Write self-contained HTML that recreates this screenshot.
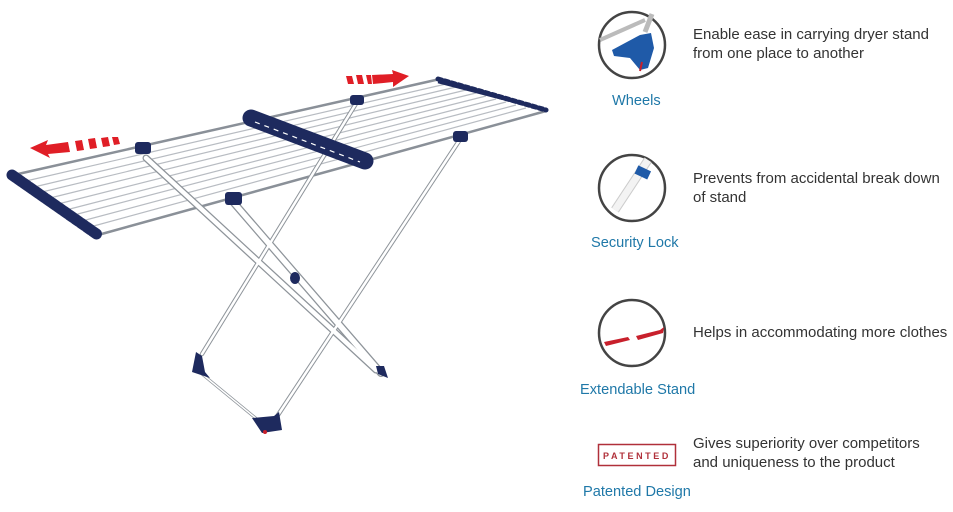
<!DOCTYPE html>
<html><head><meta charset="utf-8"><style>
html,body{margin:0;padding:0;background:#fff;}
body{width:953px;height:512px;position:relative;overflow:hidden;font-family:"Liberation Sans","DejaVu Sans",sans-serif;}
.t{position:absolute;color:#333;font-size:15px;line-height:19px;white-space:nowrap;}
.l{position:absolute;color:#1f78a8;font-size:14.6px;white-space:nowrap;}
</style></head><body>
<svg width="953" height="512" style="position:absolute;left:0;top:0">
<g stroke="#b8bcc2" stroke-width="1.2">
<line x1="26" y1="181" x2="446" y2="84"/>
<line x1="34" y1="187" x2="456" y2="87"/>
<line x1="42" y1="192" x2="466" y2="90"/>
<line x1="50" y1="198" x2="476" y2="93"/>
<line x1="58" y1="204" x2="486" y2="96"/>
<line x1="66" y1="210" x2="496" y2="99"/>
<line x1="74" y1="215" x2="506" y2="102"/>
<line x1="82" y1="221" x2="516" y2="105"/>
<line x1="90" y1="227" x2="526" y2="108"/>
</g>
<line x1="18" y1="174" x2="440" y2="79" stroke="#8a9098" stroke-width="2.5"/>
<line x1="98" y1="235" x2="546" y2="111" stroke="#8a9098" stroke-width="2.5"/>
<g stroke="#8e949a" stroke-linecap="round">
<line x1="146" y1="158" x2="376" y2="370" stroke-width="7"/>
<line x1="234" y1="203" x2="381" y2="373" stroke-width="8"/>
<line x1="357" y1="102" x2="202" y2="354" stroke-width="4.5"/>
<line x1="461" y1="138" x2="276" y2="418" stroke-width="4.5"/>
<line x1="202" y1="374" x2="258" y2="420" stroke-width="3"/>
</g>
<g stroke="#fff" stroke-linecap="round">
<line x1="146" y1="158" x2="376" y2="370" stroke-width="4.5"/>
<line x1="234" y1="203" x2="381" y2="373" stroke-width="5.5"/>
<line x1="357" y1="102" x2="202" y2="354" stroke-width="2.5"/>
<line x1="461" y1="138" x2="276" y2="418" stroke-width="2.5"/>
<line x1="202" y1="374" x2="258" y2="420" stroke-width="1.5"/>
</g>
<ellipse cx="295" cy="278" rx="5" ry="6" fill="#1e2a5e"/>
<path d="M192,372 L196,352 L202,356 L205,372 L210,378 Z" fill="#1e2a5e"/>
<path d="M252,418 L274,416 L279,412 L282,430 L262,433 Z" fill="#1e2a5e"/>
<circle cx="265" cy="432" r="2" fill="#c8202c"/>
<path d="M376,366 L384,366 L388,378 L378,374 Z" fill="#1e2a5e"/>
<path d="M12,175 L98,235" stroke="#1e2a5e" stroke-width="11" stroke-linecap="round" stroke-dasharray="5 2"/>
<path d="M12,175 L98,235" stroke="#1e2a5e" stroke-width="7" stroke-linecap="round"/>
<path d="M438,79 L546,110" stroke="#1e2a5e" stroke-width="5" stroke-linecap="round" stroke-dasharray="4 3"/>
<path d="M438,82 L546,110" stroke="#1e2a5e" stroke-width="2.5"/>
<path d="M251,118 L365,161" stroke="#1e2a5e" stroke-width="17" stroke-linecap="round"/>
<path d="M255,122 L360,162" stroke="#fff" stroke-width="1.2" stroke-dasharray="5 5"/>
<g fill="#1e2a5e">
<rect x="135" y="142" width="16" height="12" rx="3"/>
<rect x="225" y="192" width="17" height="13" rx="3"/>
<rect x="350" y="95" width="14" height="10" rx="3"/>
<rect x="453" y="131" width="15" height="11" rx="3"/>
</g>
<g fill="#e01e26">
<polygon points="30,148 48,140 46,145 68,142 70,152 48,154 50,158"/>
<polygon points="75,141 82,140 84,150 77,151"/>
<polygon points="88,139 95,138 97,148 90,149"/>
<polygon points="101,138 108,137 110,146 103,147"/>
<polygon points="112,137 118,137 120,144 114,145"/>
<polygon points="409,76 392,70 393,74 372,75 373,84 393,82 393,87"/>
<polygon points="346,76 352,76 354,84 348,84"/>
<polygon points="356,75 362,75 364,84 358,84"/>
<polygon points="366,75 371,75 372,84 368,84"/>
</g>
<g fill="none" stroke="#444" stroke-width="2.5">
<circle cx="632" cy="45" r="33"/>
<circle cx="632" cy="188" r="33"/>
<circle cx="632" cy="333" r="33"/>
</g>
<line x1="600" y1="40" x2="645" y2="20" stroke="#bbb" stroke-width="4"/>
<line x1="652" y1="14" x2="645" y2="32" stroke="#bbb" stroke-width="5"/>
<path d="M612,50 L640,35 L651,33 L654,48 L648,68 L640,70 L630,58 L614,56 Z" fill="#1f5aa8"/>
<line x1="642" y1="62" x2="640" y2="71" stroke="#c8202c" stroke-width="2"/>
<line x1="615" y1="210" x2="648" y2="160" stroke="#ccc" stroke-width="9"/>
<line x1="615" y1="210" x2="648" y2="160" stroke="#f3f3f3" stroke-width="7"/>
<rect x="636" y="168" width="14" height="9" fill="#1f5aa8" transform="rotate(25 643 172)"/>
<polygon points="604,342 628,337 630,340 606,346" fill="#c8202c"/>
<polygon points="636,336 660,330 664,327 663,333 638,340" fill="#c8202c"/>
<rect x="598.5" y="444.5" width="77" height="21" fill="none" stroke="#b0303a" stroke-width="1.5"/>
<text x="637" y="459" text-anchor="middle" font-family="Liberation Sans" font-size="9" font-weight="bold" fill="#b0303a" letter-spacing="2.6">PATENTED</text>
</svg>
<div class="t" style="left:693px;top:25px">Enable ease in carrying dryer stand<br>from one place to another</div>
<div class="l" style="left:612px;top:93px">Wheels</div>
<div class="t" style="left:693px;top:169px">Prevents from accidental break down<br>of stand</div>
<div class="l" style="left:591px;top:235px">Security Lock</div>
<div class="t" style="left:693px;top:323px">Helps in accommodating more clothes</div>
<div class="l" style="left:580px;top:382px">Extendable Stand</div>
<div class="t" style="left:693px;top:434px">Gives superiority over competitors<br>and uniqueness to the product</div>
<div class="l" style="left:583px;top:484px">Patented Design</div>
</body></html>
